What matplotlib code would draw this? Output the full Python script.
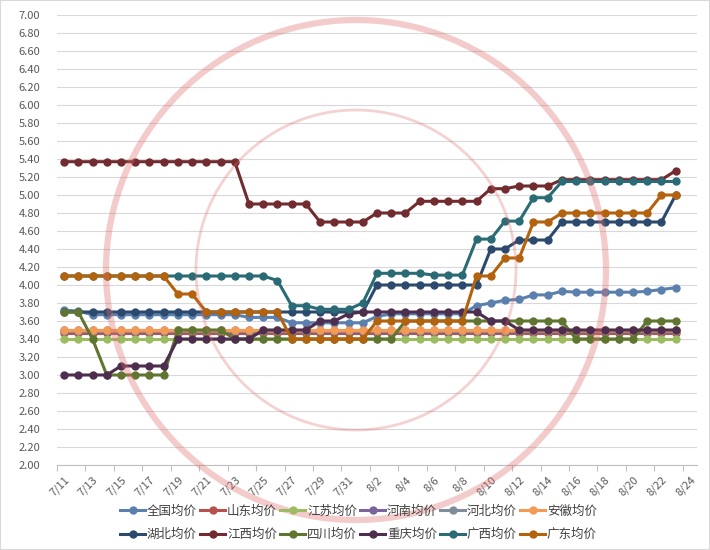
import numpy as np
import matplotlib
matplotlib.use("Agg")
import matplotlib.pyplot as plt
from matplotlib.patches import Circle, Rectangle

plt.rcParams['font.family'] = ['Noto Sans CJK SC', 'DejaVu Sans']

# category axis: 7/11 .. 8/24 (last day has no data yet)
dates = ["7/11", "7/12", "7/13", "7/14", "7/15", "7/16", "7/17", "7/18", "7/19", "7/20",
         "7/21", "7/22", "7/23", "7/24", "7/25", "7/26", "7/27", "7/28", "7/29", "7/30",
         "7/31", "8/1", "8/2", "8/3", "8/4", "8/5", "8/6", "8/7", "8/8", "8/9",
         "8/10", "8/11", "8/12", "8/13", "8/14", "8/15", "8/16", "8/17", "8/18", "8/19",
         "8/20", "8/21", "8/22", "8/23", "8/24"]

quanguo = [3.72, 3.71, 3.67, 3.67, 3.67, 3.67, 3.67, 3.67, 3.67, 3.67, 3.67, 3.67, 3.67,
           3.64, 3.64, 3.64, 3.58, 3.58, 3.58, 3.58, 3.58, 3.58, 3.65, 3.68, 3.68, 3.68,
           3.68, 3.68, 3.68, 3.77, 3.80, 3.83, 3.84, 3.89, 3.89, 3.93, 3.92, 3.92, 3.92,
           3.92, 3.92, 3.93, 3.95, 3.97]
shandong = [3.47, 3.47, 3.47, 3.47, 3.47, 3.47, 3.47, 3.47, 3.47, 3.47, 3.47, 3.47, 3.47,
            3.47, 3.47, 3.47, 3.47, 3.47, 3.47, 3.47, 3.47, 3.47, 3.47, 3.47, 3.47, 3.47,
            3.47, 3.47, 3.47, 3.47, 3.47, 3.47, 3.47, 3.47, 3.47, 3.47, 3.47, 3.47, 3.47,
            3.47, 3.47, 3.47, 3.47, 3.47]
jiangsu = [3.40, 3.40, 3.40, 3.40, 3.40, 3.40, 3.40, 3.40, 3.40, 3.40, 3.40, 3.40, 3.40,
           3.40, 3.40, 3.40, 3.40, 3.40, 3.40, 3.40, 3.40, 3.40, 3.40, 3.40, 3.40, 3.40,
           3.40, 3.40, 3.40, 3.40, 3.40, 3.40, 3.40, 3.40, 3.40, 3.40, 3.40, 3.40, 3.40,
           3.40, 3.40, 3.40, 3.40, 3.40]
henan = [3.50, 3.50, 3.50, 3.50, 3.50, 3.50, 3.50, 3.50, 3.50, 3.50, 3.50, 3.50, 3.50,
         3.50, 3.50, 3.50, 3.50, 3.50, 3.50, 3.50, 3.50, 3.50, 3.50, 3.50, 3.50, 3.50,
         3.50, 3.50, 3.50, 3.50, 3.50, 3.50, 3.50, 3.50, 3.50, 3.50, 3.50, 3.50, 3.50,
         3.50, 3.50, 3.50, 3.50, 3.50]
hebei = [3.49, 3.49, 3.49, 3.49, 3.49, 3.49, 3.49, 3.49, 3.49, 3.49, 3.49, 3.49, 3.49,
         3.49, 3.49, 3.49, 3.49, 3.49, 3.49, 3.49, 3.49, 3.49, 3.49, 3.49, 3.49, 3.49,
         3.49, 3.49, 3.49, 3.49, 3.49, 3.49, 3.49, 3.49, 3.49, 3.49, 3.49, 3.49, 3.49,
         3.49, 3.49, 3.49, 3.49, 3.49]
anhui = [3.50, 3.50, 3.50, 3.50, 3.50, 3.50, 3.50, 3.50, 3.50, 3.50, 3.50, 3.50, 3.50,
         3.50, 3.50, 3.50, 3.50, 3.50, 3.50, 3.50, 3.50, 3.50, 3.50, 3.50, 3.50, 3.50,
         3.50, 3.50, 3.50, 3.50, 3.50, 3.50, 3.50, 3.50, 3.50, 3.50, 3.50, 3.50, 3.50,
         3.50, 3.50, 3.50, 3.50, 3.50]
hubei = [3.70, 3.70, 3.70, 3.70, 3.70, 3.70, 3.70, 3.70, 3.70, 3.70, 3.70, 3.70, 3.70,
         3.70, 3.70, 3.70, 3.70, 3.70, 3.70, 3.70, 3.70, 3.70, 4.00, 4.00, 4.00, 4.00,
         4.00, 4.00, 4.00, 4.00, 4.40, 4.40, 4.50, 4.50, 4.50, 4.70, 4.70, 4.70, 4.70,
         4.70, 4.70, 4.70, 4.70, 5.00]
jiangxi = [5.37, 5.37, 5.37, 5.37, 5.37, 5.37, 5.37, 5.37, 5.37, 5.37, 5.37, 5.37, 5.37,
           4.90, 4.90, 4.90, 4.90, 4.90, 4.70, 4.70, 4.70, 4.70, 4.80, 4.80, 4.80, 4.93,
           4.93, 4.93, 4.93, 4.93, 5.07, 5.07, 5.10, 5.10, 5.10, 5.17, 5.17, 5.17, 5.17,
           5.17, 5.17, 5.17, 5.17, 5.27]
sichuan = [3.70, 3.70, 3.40, 3.00, 3.00, 3.00, 3.00, 3.00, 3.50, 3.50, 3.50, 3.50, 3.40,
           3.40, 3.40, 3.40, 3.40, 3.40, 3.40, 3.40, 3.40, 3.40, 3.40, 3.40, 3.60, 3.60,
           3.60, 3.60, 3.60, 3.60, 3.60, 3.60, 3.60, 3.60, 3.60, 3.60, 3.40, 3.40, 3.40,
           3.40, 3.40, 3.60, 3.60, 3.60]
chongqing = [3.00, 3.00, 3.00, 3.00, 3.10, 3.10, 3.10, 3.10, 3.40, 3.40, 3.40, 3.40, 3.40,
             3.40, 3.50, 3.50, 3.50, 3.50, 3.60, 3.60, 3.68, 3.70, 3.70, 3.70, 3.70, 3.70,
             3.70, 3.70, 3.70, 3.70, 3.60, 3.60, 3.50, 3.50, 3.50, 3.50, 3.50, 3.50, 3.50,
             3.50, 3.50, 3.50, 3.50, 3.50]
guangxi = [4.10, 4.10, 4.10, 4.10, 4.10, 4.10, 4.10, 4.10, 4.10, 4.10, 4.10, 4.10, 4.10,
           4.10, 4.10, 4.05, 3.77, 3.77, 3.73, 3.73, 3.73, 3.80, 4.13, 4.13, 4.13, 4.13,
           4.11, 4.11, 4.11, 4.51, 4.51, 4.71, 4.71, 4.97, 4.97, 5.15, 5.15, 5.15, 5.15,
           5.15, 5.15, 5.15, 5.15, 5.15]
guangdong = [4.10, 4.10, 4.10, 4.10, 4.10, 4.10, 4.10, 4.10, 3.90, 3.90, 3.70, 3.70, 3.70,
             3.70, 3.70, 3.70, 3.40, 3.40, 3.40, 3.40, 3.40, 3.40, 3.60, 3.60, 3.60, 3.60,
             3.60, 3.60, 3.60, 4.10, 4.10, 4.30, 4.30, 4.70, 4.70, 4.80, 4.80, 4.80, 4.80,
             4.80, 4.80, 4.80, 5.00, 5.00]

names = ["全国均价", "山东均价", "江苏均价", "河南均价", "河北均价", "安徽均价",
         "湖北均价", "江西均价", "四川均价", "重庆均价", "广西均价", "广东均价"]
series = [quanguo, shandong, jiangsu, henan, hebei, anhui,
          hubei, jiangxi, sichuan, chongqing, guangxi, guangdong]
colors = ["#5B80AE", "#B8504D", "#9DBB61", "#7B649C", "#7F8C9A", "#F39A55",
          "#2C4A6E", "#722B2E", "#5F7530", "#4E2E4E", "#2A6B76", "#B3620E"]

fig = plt.figure(figsize=(7.1, 5.5), dpi=100)
ax = fig.add_axes([57 / 710, 1 - 465 / 550, 640 / 710, 450 / 550])

handles = []
for name, vals, c in zip(names, series, colors):
    h, = ax.plot(range(len(vals)), vals, color=c, lw=2.2, marker='o', ms=5, label=name)
    handles.append(h)

ax.set_xlim(-0.5, len(dates) - 0.5)
ax.set_ylim(2, 7)
yt = np.linspace(2, 7, 26)
ax.set_yticks(yt)
ax.set_yticklabels(["%.2f" % v for v in yt], fontsize=8, color="#595959")
ax.tick_params(axis='y', length=0, pad=12)

# labels sit on every other category, tick marks sit between categories
ax.set_xticks(range(0, len(dates), 2))
ax.set_xticklabels(dates[::2], fontsize=8, color="#595959", rotation=45,
                   ha='right', va='top', rotation_mode='anchor')
ax.set_xticks(np.arange(-0.5, len(dates) - 1, 2), minor=True)
ax.tick_params(axis='x', which='major', length=0, pad=7)
ax.tick_params(axis='x', which='minor', length=4, color="#BFBFBF", width=0.8)

ax.yaxis.grid(True, color="#D9D9D9", lw=0.8)
ax.set_axisbelow(True)
for s in ['left', 'right', 'top']:
    ax.spines[s].set_visible(False)
ax.spines['bottom'].set_color("#BFBFBF")

# legend in two rows, row-major like Excel
order = [0, 6, 1, 7, 2, 8, 3, 9, 4, 10, 5, 11]
fig.legend([handles[i] for i in order], [names[i] for i in order],
           loc='center', bbox_to_anchor=(0.505, 0.049), ncol=6, frameon=False,
           fontsize=9, handlelength=2.0, handletextpad=0.15, columnspacing=0.25,
           labelspacing=0.85, labelcolor="#404040")

# faint watermark rings over the plot
wax = fig.add_axes([0, 0, 1, 1], zorder=5)
wax.set_xlim(0, 710)
wax.set_ylim(550, 0)
wax.axis('off')
wax.patch.set_alpha(0)
wax.add_patch(Circle((356, 270), 250, fill=False, ec="#E06A6A", alpha=0.35, lw=4.5))
wax.add_patch(Circle((356, 270), 160, fill=False, ec="#E06A6A", alpha=0.3, lw=2))

fig.patches.append(Rectangle((0, 0), 1, 1, transform=fig.transFigure, fill=False,
                             ec="#D9D9D9", lw=1.5))

plt.savefig('out.png', dpi=100)
